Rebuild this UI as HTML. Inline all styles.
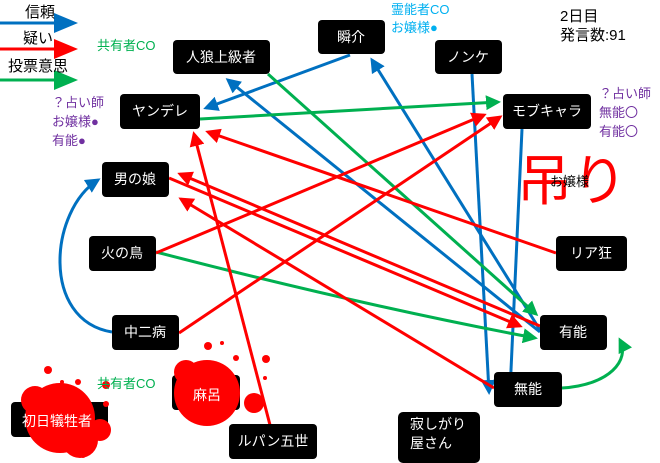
<!DOCTYPE html>
<html><head><meta charset="utf-8"><style>
body{margin:0;background:#fff}
svg{display:block;font-family:"Liberation Sans","Noto Sans CJK JP",sans-serif}
.n{fill:#000}
.t{fill:#fff;font-size:14px;text-anchor:middle;dominant-baseline:central}
</style></head><body>
<svg width="660" height="463" viewBox="0 0 660 463" xmlns="http://www.w3.org/2000/svg">
<defs>
<marker id="ab" markerWidth="5" markerHeight="5" refX="4" refY="2.5" orient="auto" markerUnits="strokeWidth"><path d="M0,0L5,2.5L0,5z" fill="#0070c0"/></marker>
<marker id="ar" markerWidth="5" markerHeight="5" refX="4" refY="2.5" orient="auto" markerUnits="strokeWidth"><path d="M0,0L5,2.5L0,5z" fill="#ff0000"/></marker>
<marker id="ag" markerWidth="5" markerHeight="5" refX="4" refY="2.5" orient="auto" markerUnits="strokeWidth"><path d="M0,0L5,2.5L0,5z" fill="#00b050"/></marker>
</defs>
<g fill="none" stroke-width="3">
<line x1="0" y1="23" x2="60" y2="23" stroke="#0070c0"/><path d="M54,13L78,23L54,33z" fill="#0070c0" stroke="none"/>
<line x1="0" y1="49" x2="60" y2="49" stroke="#ff0000"/><path d="M54,39L78,49L54,59z" fill="#ff0000" stroke="none"/>
<line x1="0" y1="80" x2="60" y2="80" stroke="#00b050"/><path d="M54,70L78,80L54,90z" fill="#00b050" stroke="none"/>
<line x1="350" y1="55" x2="206" y2="108" stroke="#0070c0" marker-end="url(#ab)"/>
<line x1="540" y1="332" x2="228" y2="80" stroke="#0070c0" marker-end="url(#ab)"/>
<line x1="540" y1="330" x2="372" y2="60" stroke="#0070c0" marker-end="url(#ab)"/>
<line x1="522" y1="129" x2="510" y2="392" stroke="#0070c0" marker-end="url(#ab)"/>
<line x1="472" y1="74" x2="489" y2="392" stroke="#0070c0" marker-end="url(#ab)"/>
<path d="M112,332 C40,320 50,210 98,180" stroke="#0070c0" marker-end="url(#ab)"/>
<line x1="200" y1="119" x2="498" y2="102" stroke="#00b050" marker-end="url(#ag)"/>
<line x1="268" y1="74" x2="536" y2="314" stroke="#00b050" marker-end="url(#ag)"/>
<path d="M156,252 Q360,305 535,338" stroke="#00b050" marker-end="url(#ag)"/>
<path d="M562,388 C610,385 630,360 620,340" stroke="#00b050" marker-end="url(#ag)"/>
<line x1="556" y1="253" x2="208" y2="132" stroke="#ff0000" marker-end="url(#ar)"/>
<line x1="270" y1="425" x2="194" y2="134" stroke="#ff0000" marker-end="url(#ar)"/>
<line x1="156" y1="253" x2="484" y2="115" stroke="#ff0000" marker-end="url(#ar)"/>
<line x1="179" y1="333" x2="500" y2="117" stroke="#ff0000" marker-end="url(#ar)"/>
<line x1="169" y1="178" x2="520" y2="326" stroke="#ff0000" marker-end="url(#ar)"/>
<line x1="540" y1="326" x2="180" y2="174" stroke="#ff0000" marker-end="url(#ar)"/>
<line x1="494" y1="388" x2="181" y2="199" stroke="#ff0000" marker-end="url(#ar)"/>
</g>
<g font-size="15" fill="#000">
<text x="25" y="17">信頼</text>
<text x="23" y="43">疑い</text>
<text x="8" y="71">投票意思</text>
<text x="560" y="21">2日目</text>
<text x="560" y="40">発言数:91</text>
</g>
<g font-size="13">
<text x="97" y="50" fill="#00b050">共有者CO</text>
<text x="52" y="107" fill="#7030a0">？占い師</text>
<text x="52" y="126" fill="#7030a0">お嬢様●</text>
<text x="52" y="145" fill="#7030a0">有能●</text>
<text x="391" y="14" fill="#00b0f0">霊能者CO</text>
<text x="391" y="32" fill="#00b0f0">お嬢様●</text>
<text x="599" y="98" fill="#7030a0">？占い師</text>
<text x="599" y="117" fill="#7030a0">無能〇</text>
<text x="599" y="136" fill="#7030a0">有能〇</text>
</g>
<text x="517" y="200" font-size="55" fill="#ff0000">吊り</text>
<text x="550" y="186" font-size="13" fill="#000">お嬢様</text>
<g>
<rect class="n" x="173" y="40" width="97" height="34" rx="4"/><text class="t" x="221" y="57">人狼上級者</text>
<rect class="n" x="318" y="20" width="67" height="34" rx="4"/><text class="t" x="351" y="37">瞬介</text>
<rect class="n" x="435" y="40" width="67" height="34" rx="4"/><text class="t" x="468" y="57">ノンケ</text>
<rect class="n" x="120" y="94" width="80" height="35" rx="4"/><text class="t" x="160" y="111">ヤンデレ</text>
<rect class="n" x="503" y="94" width="88" height="35" rx="4"/><text class="t" x="547" y="111">モブキャラ</text>
<rect class="n" x="102" y="162" width="67" height="35" rx="4"/><text class="t" x="135" y="179">男の娘</text>
<rect class="n" x="89" y="236" width="67" height="35" rx="4"/><text class="t" x="122" y="253">火の鳥</text>
<rect class="n" x="556" y="236" width="71" height="35" rx="4"/><text class="t" x="591" y="253">リア狂</text>
<rect class="n" x="112" y="315" width="67" height="35" rx="4"/><text class="t" x="145" y="332">中二病</text>
<rect class="n" x="540" y="315" width="67" height="35" rx="4"/><text class="t" x="573" y="332">有能</text>
<rect class="n" x="494" y="372" width="68" height="35" rx="4"/><text class="t" x="528" y="389">無能</text>
<rect class="n" x="229" y="424" width="88" height="35" rx="4"/><text class="t" x="273" y="441">ルパン五世</text>
<rect class="n" x="398" y="412" width="82" height="51" rx="5"/>
<text x="410" y="429" fill="#fff" font-size="14">寂しがり</text><text x="410" y="448" fill="#fff" font-size="14">屋さん</text>
<rect class="n" x="172" y="375" width="68" height="35" rx="4"/>
<rect class="n" x="11" y="402" width="97" height="35" rx="4"/>
</g>
<g fill="#ff0000">
<circle cx="60" cy="418" r="35"/><circle cx="35" cy="400" r="14"/><circle cx="80" cy="440" r="18"/>
<circle cx="100" cy="430" r="11"/><circle cx="48" cy="370" r="4"/><circle cx="78" cy="382" r="3"/>
<circle cx="62" cy="382" r="2"/><circle cx="106" cy="404" r="3"/><circle cx="83" cy="455" r="3"/>
<circle cx="207" cy="393" r="33"/><circle cx="186" cy="372" r="12"/><circle cx="254" cy="403" r="10"/>
<circle cx="208" cy="346" r="4"/><circle cx="236" cy="358" r="3"/><circle cx="266" cy="359" r="4"/>
<circle cx="222" cy="343" r="2"/><circle cx="265" cy="378" r="2"/><circle cx="106" cy="385" r="4"/>
</g>
<text x="97" y="388" font-size="13" fill="#00b050">共有者CO</text>
<text class="t" x="207" y="395">麻呂</text>
<text class="t" x="57" y="421">初日犠牲者</text>
</svg>
</body></html>
